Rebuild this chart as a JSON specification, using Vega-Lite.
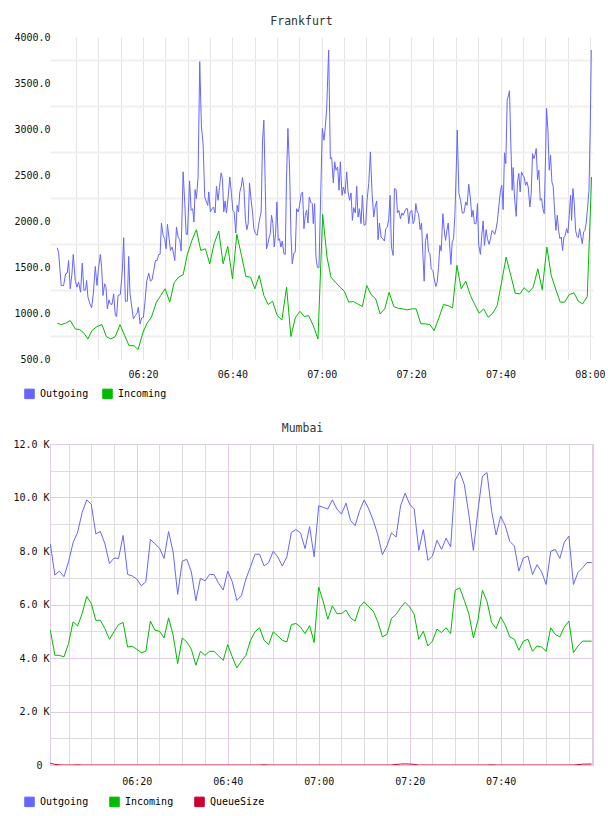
{
"$schema": "https://vega.github.io/schema/vega-lite/v6.json",
"padding": {"left": 12, "top": 15, "right": 0, "bottom": 0},
"background": "white",
"spacing": 21,
"config": {
 "font": "DejaVu Sans Mono",
 "axis": {"labelFont": "DejaVu Sans Mono", "labelFontSize": 10, "labelColor": "#111", "ticks": false, "domain": false, "labelFlush": false, "labelOverlap": false}
},
"resolve": {"scale": {"color": "independent", "x": "independent", "y": "independent"}, "legend": {"color": "independent"}},
"vconcat": [
{
 "title": {"text": "Frankfurt", "font": "DejaVu Sans Mono", "fontSize": 11.5, "fontWeight": "normal", "color": "#333", "dx": -20, "offset": -4, "baseline": "alphabetic"},
 "width": 543, "height": 322,
 "view": {"stroke": null},
 "data": {"values": [
{"min":0.80,"series":"Outgoing","value":1709},{"min":1.10,"series":"Outgoing","value":1662},{"min":1.69,"series":"Outgoing","value":1299},{"min":2.22,"series":"Outgoing","value":1299},{"min":2.67,"series":"Outgoing","value":1426},{"min":3.04,"series":"Outgoing","value":1433},{"min":3.34,"series":"Outgoing","value":1571},{"min":3.71,"series":"Outgoing","value":1263},{"min":4.09,"series":"Outgoing","value":1426},{"min":4.39,"series":"Outgoing","value":1637},{"min":4.83,"series":"Outgoing","value":1354},{"min":5.21,"series":"Outgoing","value":1281},{"min":5.58,"series":"Outgoing","value":1335},{"min":6.03,"series":"Outgoing","value":1226},{"min":6.40,"series":"Outgoing","value":1542},{"min":6.78,"series":"Outgoing","value":1245},{"min":7.15,"series":"Outgoing","value":1252},{"min":7.37,"series":"Outgoing","value":1354},{"min":7.67,"series":"Outgoing","value":1172},{"min":8.12,"series":"Outgoing","value":1099},{"min":8.50,"series":"Outgoing","value":1056},{"min":8.87,"series":"Outgoing","value":1208},{"min":9.32,"series":"Outgoing","value":1506},{"min":9.69,"series":"Outgoing","value":1299},{"min":9.99,"series":"Outgoing","value":1462},{"min":10.44,"series":"Outgoing","value":1637},{"min":10.74,"series":"Outgoing","value":1498},{"min":11.04,"series":"Outgoing","value":1190},{"min":11.41,"series":"Outgoing","value":1317},{"min":11.71,"series":"Outgoing","value":1281},{"min":12.01,"series":"Outgoing","value":1045},{"min":12.38,"series":"Outgoing","value":1143},{"min":12.68,"series":"Outgoing","value":1099},{"min":13.05,"series":"Outgoing","value":1092},{"min":13.43,"series":"Outgoing","value":1208},{"min":13.80,"series":"Outgoing","value":972},{"min":14.10,"series":"Outgoing","value":961},{"min":14.40,"series":"Outgoing","value":1190},{"min":14.92,"series":"Outgoing","value":1201},{"min":15.37,"series":"Outgoing","value":1462},{"min":15.67,"series":"Outgoing","value":1818},{"min":16.04,"series":"Outgoing","value":1128},{"min":16.49,"series":"Outgoing","value":1128},{"min":16.79,"series":"Outgoing","value":1615},{"min":17.09,"series":"Outgoing","value":1208},{"min":17.54,"series":"Outgoing","value":1045},{"min":17.84,"series":"Outgoing","value":936},{"min":18.29,"series":"Outgoing","value":972},{"min":18.66,"series":"Outgoing","value":998},{"min":18.96,"series":"Outgoing","value":1063},{"min":19.33,"series":"Outgoing","value":882},{"min":19.71,"series":"Outgoing","value":947},{"min":20.08,"series":"Outgoing","value":954},{"min":20.45,"series":"Outgoing","value":1128},{"min":20.83,"series":"Outgoing","value":1346},{"min":21.28,"series":"Outgoing","value":1433},{"min":21.65,"series":"Outgoing","value":1346},{"min":22.02,"series":"Outgoing","value":1361},{"min":22.40,"series":"Outgoing","value":1462},{"min":22.77,"series":"Outgoing","value":1571},{"min":23.14,"series":"Outgoing","value":1571},{"min":23.52,"series":"Outgoing","value":1637},{"min":23.82,"series":"Outgoing","value":1637},{"min":24.12,"series":"Outgoing","value":1978},{"min":24.49,"series":"Outgoing","value":1844},{"min":24.86,"series":"Outgoing","value":1807},{"min":25.16,"series":"Outgoing","value":1698},{"min":25.46,"series":"Outgoing","value":1964},{"min":25.84,"series":"Outgoing","value":1807},{"min":26.13,"series":"Outgoing","value":1680},{"min":26.51,"series":"Outgoing","value":1717},{"min":26.81,"series":"Outgoing","value":1651},{"min":27.11,"series":"Outgoing","value":1571},{"min":27.48,"series":"Outgoing","value":1935},{"min":27.85,"series":"Outgoing","value":1826},{"min":28.23,"series":"Outgoing","value":1797},{"min":28.53,"series":"Outgoing","value":1673},{"min":28.97,"series":"Outgoing","value":2534},{"min":29.35,"series":"Outgoing","value":2189},{"min":29.65,"series":"Outgoing","value":1855},{"min":29.95,"series":"Outgoing","value":1855},{"min":30.42,"series":"Outgoing","value":2436},{"min":30.76,"series":"Outgoing","value":2116},{"min":31.10,"series":"Outgoing","value":2134},{"min":31.40,"series":"Outgoing","value":1989},{"min":31.65,"series":"Outgoing","value":2341},{"min":31.94,"series":"Outgoing","value":2243},{"min":32.32,"series":"Outgoing","value":2479},{"min":32.69,"series":"Outgoing","value":3732},{"min":33.07,"series":"Outgoing","value":3024},{"min":33.44,"series":"Outgoing","value":2842},{"min":33.81,"series":"Outgoing","value":2261},{"min":34.19,"series":"Outgoing","value":2207},{"min":34.49,"series":"Outgoing","value":2170},{"min":34.71,"series":"Outgoing","value":2316},{"min":35.08,"series":"Outgoing","value":2098},{"min":35.46,"series":"Outgoing","value":2134},{"min":35.76,"series":"Outgoing","value":2152},{"min":36.13,"series":"Outgoing","value":2087},{"min":36.43,"series":"Outgoing","value":2377},{"min":36.80,"series":"Outgoing","value":2225},{"min":37.10,"series":"Outgoing","value":2363},{"min":37.48,"series":"Outgoing","value":2523},{"min":37.77,"series":"Outgoing","value":2461},{"min":38.07,"series":"Outgoing","value":2098},{"min":38.37,"series":"Outgoing","value":2218},{"min":38.67,"series":"Outgoing","value":2087},{"min":39.05,"series":"Outgoing","value":2261},{"min":39.42,"series":"Outgoing","value":2479},{"min":39.79,"series":"Outgoing","value":2298},{"min":40.09,"series":"Outgoing","value":2116},{"min":40.39,"series":"Outgoing","value":2098},{"min":40.76,"series":"Outgoing","value":1869},{"min":41.06,"series":"Outgoing","value":2170},{"min":41.36,"series":"Outgoing","value":2098},{"min":41.66,"series":"Outgoing","value":2316},{"min":41.96,"series":"Outgoing","value":2370},{"min":42.26,"series":"Outgoing","value":2472},{"min":42.56,"series":"Outgoing","value":2370},{"min":42.93,"series":"Outgoing","value":2007},{"min":43.23,"series":"Outgoing","value":1906},{"min":43.53,"series":"Outgoing","value":1971},{"min":43.83,"series":"Outgoing","value":2414},{"min":44.20,"series":"Outgoing","value":2225},{"min":44.50,"series":"Outgoing","value":2098},{"min":44.80,"series":"Outgoing","value":1917},{"min":45.17,"series":"Outgoing","value":1862},{"min":45.55,"series":"Outgoing","value":1844},{"min":45.85,"series":"Outgoing","value":1953},{"min":46.15,"series":"Outgoing","value":2036},{"min":46.44,"series":"Outgoing","value":2098},{"min":46.74,"series":"Outgoing","value":2871},{"min":47.04,"series":"Outgoing","value":3096},{"min":47.34,"series":"Outgoing","value":2407},{"min":47.64,"series":"Outgoing","value":1698},{"min":47.94,"series":"Outgoing","value":1753},{"min":48.24,"series":"Outgoing","value":1826},{"min":48.46,"series":"Outgoing","value":1855},{"min":48.76,"series":"Outgoing","value":2062},{"min":49.06,"series":"Outgoing","value":1971},{"min":49.36,"series":"Outgoing","value":1717},{"min":49.66,"series":"Outgoing","value":1862},{"min":49.96,"series":"Outgoing","value":2207},{"min":50.26,"series":"Outgoing","value":1789},{"min":50.55,"series":"Outgoing","value":1807},{"min":50.85,"series":"Outgoing","value":1717},{"min":51.15,"series":"Outgoing","value":1782},{"min":51.53,"series":"Outgoing","value":1644},{"min":51.83,"series":"Outgoing","value":1637},{"min":52.12,"series":"Outgoing","value":2479},{"min":52.42,"series":"Outgoing","value":3006},{"min":52.80,"series":"Outgoing","value":2552},{"min":53.10,"series":"Outgoing","value":1862},{"min":53.39,"series":"Outgoing","value":1535},{"min":53.77,"series":"Outgoing","value":1651},{"min":54.07,"series":"Outgoing","value":1662},{"min":54.37,"series":"Outgoing","value":2134},{"min":54.74,"series":"Outgoing","value":2098},{"min":55.04,"series":"Outgoing","value":2170},{"min":55.41,"series":"Outgoing","value":2298},{"min":55.71,"series":"Outgoing","value":2316},{"min":56.01,"series":"Outgoing","value":1917},{"min":56.31,"series":"Outgoing","value":2062},{"min":56.61,"series":"Outgoing","value":2116},{"min":56.91,"series":"Outgoing","value":1978},{"min":57.21,"series":"Outgoing","value":2261},{"min":57.51,"series":"Outgoing","value":2207},{"min":57.88,"series":"Outgoing","value":2189},{"min":58.10,"series":"Outgoing","value":1971},{"min":58.40,"series":"Outgoing","value":2189},{"min":58.70,"series":"Outgoing","value":1608},{"min":59.00,"series":"Outgoing","value":1498},{"min":59.37,"series":"Outgoing","value":1491},{"min":60.12,"series":"Outgoing","value":3006},{"min":60.49,"series":"Outgoing","value":2878},{"min":60.72,"series":"Outgoing","value":2988},{"min":61.09,"series":"Outgoing","value":3205},{"min":61.54,"series":"Outgoing","value":3859},{"min":61.92,"series":"Outgoing","value":2679},{"min":62.21,"series":"Outgoing","value":2690},{"min":62.59,"series":"Outgoing","value":2414},{"min":62.89,"series":"Outgoing","value":2643},{"min":63.19,"series":"Outgoing","value":2552},{"min":63.56,"series":"Outgoing","value":2588},{"min":63.86,"series":"Outgoing","value":2334},{"min":64.16,"series":"Outgoing","value":2643},{"min":64.53,"series":"Outgoing","value":2279},{"min":64.83,"series":"Outgoing","value":2370},{"min":65.20,"series":"Outgoing","value":2298},{"min":65.58,"series":"Outgoing","value":2534},{"min":65.88,"series":"Outgoing","value":2316},{"min":66.25,"series":"Outgoing","value":2225},{"min":66.55,"series":"Outgoing","value":2305},{"min":66.85,"series":"Outgoing","value":2007},{"min":67.15,"series":"Outgoing","value":2145},{"min":67.52,"series":"Outgoing","value":2087},{"min":67.82,"series":"Outgoing","value":2377},{"min":68.12,"series":"Outgoing","value":2043},{"min":68.42,"series":"Outgoing","value":2134},{"min":68.79,"series":"Outgoing","value":1971},{"min":69.09,"series":"Outgoing","value":2279},{"min":69.46,"series":"Outgoing","value":1953},{"min":69.84,"series":"Outgoing","value":1964},{"min":70.14,"series":"Outgoing","value":2225},{"min":70.51,"series":"Outgoing","value":2407},{"min":70.88,"series":"Outgoing","value":2751},{"min":71.26,"series":"Outgoing","value":2298},{"min":71.63,"series":"Outgoing","value":2043},{"min":71.93,"series":"Outgoing","value":2152},{"min":72.30,"series":"Outgoing","value":2218},{"min":72.60,"series":"Outgoing","value":1797},{"min":72.90,"series":"Outgoing","value":1978},{"min":73.28,"series":"Outgoing","value":1826},{"min":73.65,"series":"Outgoing","value":1807},{"min":74.02,"series":"Outgoing","value":1782},{"min":74.32,"series":"Outgoing","value":1917},{"min":74.70,"series":"Outgoing","value":1935},{"min":74.99,"series":"Outgoing","value":2025},{"min":75.29,"series":"Outgoing","value":2279},{"min":75.59,"series":"Outgoing","value":1717},{"min":75.97,"series":"Outgoing","value":1626},{"min":76.26,"series":"Outgoing","value":2352},{"min":76.64,"series":"Outgoing","value":2341},{"min":76.94,"series":"Outgoing","value":2087},{"min":77.24,"series":"Outgoing","value":2116},{"min":77.61,"series":"Outgoing","value":2025},{"min":77.91,"series":"Outgoing","value":2087},{"min":78.21,"series":"Outgoing","value":2062},{"min":78.51,"series":"Outgoing","value":2098},{"min":78.88,"series":"Outgoing","value":2134},{"min":79.18,"series":"Outgoing","value":2134},{"min":79.48,"series":"Outgoing","value":1971},{"min":79.78,"series":"Outgoing","value":2098},{"min":80.15,"series":"Outgoing","value":2116},{"min":80.45,"series":"Outgoing","value":1971},{"min":80.75,"series":"Outgoing","value":2007},{"min":81.05,"series":"Outgoing","value":2189},{"min":81.35,"series":"Outgoing","value":2098},{"min":81.65,"series":"Outgoing","value":2080},{"min":82.02,"series":"Outgoing","value":1906},{"min":82.32,"series":"Outgoing","value":1978},{"min":82.62,"series":"Outgoing","value":1644},{"min":82.92,"series":"Outgoing","value":1346},{"min":83.22,"series":"Outgoing","value":1789},{"min":83.59,"series":"Outgoing","value":1862},{"min":83.89,"series":"Outgoing","value":1662},{"min":84.19,"series":"Outgoing","value":1651},{"min":84.49,"series":"Outgoing","value":1480},{"min":84.86,"series":"Outgoing","value":1462},{"min":85.16,"series":"Outgoing","value":1372},{"min":85.53,"series":"Outgoing","value":1288},{"min":85.83,"series":"Outgoing","value":1335},{"min":86.13,"series":"Outgoing","value":1498},{"min":86.43,"series":"Outgoing","value":1735},{"min":86.73,"series":"Outgoing","value":1673},{"min":87.10,"series":"Outgoing","value":2080},{"min":87.40,"series":"Outgoing","value":1906},{"min":87.70,"series":"Outgoing","value":1789},{"min":88.00,"series":"Outgoing","value":1898},{"min":88.30,"series":"Outgoing","value":1978},{"min":88.60,"series":"Outgoing","value":1753},{"min":88.90,"series":"Outgoing","value":1527},{"min":89.19,"series":"Outgoing","value":1771},{"min":89.49,"series":"Outgoing","value":1807},{"min":89.79,"series":"Outgoing","value":2062},{"min":90.09,"series":"Outgoing","value":2552},{"min":90.32,"series":"Outgoing","value":2988},{"min":90.69,"series":"Outgoing","value":2298},{"min":91.06,"series":"Outgoing","value":2225},{"min":91.44,"series":"Outgoing","value":2087},{"min":91.81,"series":"Outgoing","value":2087},{"min":92.22,"series":"Outgoing","value":2207},{"min":92.52,"series":"Outgoing","value":2170},{"min":92.89,"series":"Outgoing","value":2399},{"min":93.27,"series":"Outgoing","value":2243},{"min":93.57,"series":"Outgoing","value":2043},{"min":93.86,"series":"Outgoing","value":2116},{"min":94.16,"series":"Outgoing","value":1971},{"min":94.54,"series":"Outgoing","value":1971},{"min":94.84,"series":"Outgoing","value":2189},{"min":95.13,"series":"Outgoing","value":1735},{"min":95.51,"series":"Outgoing","value":1637},{"min":95.81,"series":"Outgoing","value":1844},{"min":96.11,"series":"Outgoing","value":2000},{"min":96.41,"series":"Outgoing","value":1735},{"min":96.78,"series":"Outgoing","value":1906},{"min":97.08,"series":"Outgoing","value":1807},{"min":97.45,"series":"Outgoing","value":1746},{"min":97.75,"series":"Outgoing","value":1807},{"min":98.12,"series":"Outgoing","value":1898},{"min":98.42,"series":"Outgoing","value":1880},{"min":98.72,"series":"Outgoing","value":1855},{"min":99.02,"series":"Outgoing","value":1917},{"min":99.32,"series":"Outgoing","value":2007},{"min":99.62,"series":"Outgoing","value":2152},{"min":99.99,"series":"Outgoing","value":2334},{"min":100.29,"series":"Outgoing","value":2388},{"min":100.59,"series":"Outgoing","value":2123},{"min":100.89,"series":"Outgoing","value":2741},{"min":101.19,"series":"Outgoing","value":2624},{"min":101.49,"series":"Outgoing","value":3314},{"min":101.79,"series":"Outgoing","value":3369},{"min":102.01,"series":"Outgoing","value":3416},{"min":102.31,"series":"Outgoing","value":2842},{"min":102.61,"series":"Outgoing","value":2334},{"min":102.83,"series":"Outgoing","value":2581},{"min":103.13,"series":"Outgoing","value":2261},{"min":103.51,"series":"Outgoing","value":2051},{"min":103.80,"series":"Outgoing","value":2425},{"min":104.10,"series":"Outgoing","value":2516},{"min":104.40,"series":"Outgoing","value":2316},{"min":104.70,"series":"Outgoing","value":2534},{"min":105.00,"series":"Outgoing","value":2497},{"min":105.30,"series":"Outgoing","value":2479},{"min":105.60,"series":"Outgoing","value":2388},{"min":105.90,"series":"Outgoing","value":2425},{"min":106.20,"series":"Outgoing","value":2370},{"min":106.57,"series":"Outgoing","value":2152},{"min":106.87,"series":"Outgoing","value":2298},{"min":107.17,"series":"Outgoing","value":2733},{"min":107.47,"series":"Outgoing","value":2679},{"min":107.77,"series":"Outgoing","value":2726},{"min":107.99,"series":"Outgoing","value":2788},{"min":108.29,"series":"Outgoing","value":2450},{"min":108.59,"series":"Outgoing","value":2552},{"min":108.89,"series":"Outgoing","value":2225},{"min":109.19,"series":"Outgoing","value":2243},{"min":109.48,"series":"Outgoing","value":2134},{"min":109.78,"series":"Outgoing","value":2080},{"min":110.08,"series":"Outgoing","value":2697},{"min":110.31,"series":"Outgoing","value":3224},{"min":110.61,"series":"Outgoing","value":2988},{"min":110.90,"series":"Outgoing","value":2552},{"min":111.20,"series":"Outgoing","value":2715},{"min":111.50,"series":"Outgoing","value":2425},{"min":111.80,"series":"Outgoing","value":2377},{"min":112.10,"series":"Outgoing","value":2116},{"min":112.40,"series":"Outgoing","value":1898},{"min":112.70,"series":"Outgoing","value":2062},{"min":113.00,"series":"Outgoing","value":1898},{"min":113.30,"series":"Outgoing","value":1807},{"min":113.60,"series":"Outgoing","value":1826},{"min":113.89,"series":"Outgoing","value":1680},{"min":114.19,"series":"Outgoing","value":1826},{"min":114.49,"series":"Outgoing","value":1844},{"min":114.79,"series":"Outgoing","value":1917},{"min":115.09,"series":"Outgoing","value":1869},{"min":115.39,"series":"Outgoing","value":2062},{"min":115.69,"series":"Outgoing","value":2279},{"min":115.91,"series":"Outgoing","value":2007},{"min":116.21,"series":"Outgoing","value":2352},{"min":116.51,"series":"Outgoing","value":2189},{"min":116.81,"series":"Outgoing","value":1898},{"min":117.11,"series":"Outgoing","value":1833},{"min":117.41,"series":"Outgoing","value":1818},{"min":117.71,"series":"Outgoing","value":1917},{"min":118.00,"series":"Outgoing","value":1833},{"min":118.30,"series":"Outgoing","value":1753},{"min":118.60,"series":"Outgoing","value":1880},{"min":118.90,"series":"Outgoing","value":1898},{"min":119.20,"series":"Outgoing","value":1989},{"min":119.50,"series":"Outgoing","value":2152},{"min":119.80,"series":"Outgoing","value":2334},{"min":120.10,"series":"Outgoing","value":3060},{"min":120.32,"series":"Outgoing","value":3859},
{"min":0.80,"series":"Incoming","value":889},{"min":1.69,"series":"Incoming","value":874},{"min":2.67,"series":"Incoming","value":889},{"min":3.71,"series":"Incoming","value":918},{"min":4.83,"series":"Incoming","value":827},{"min":5.81,"series":"Incoming","value":820},{"min":6.78,"series":"Incoming","value":780},{"min":7.67,"series":"Incoming","value":718},{"min":8.57,"series":"Incoming","value":809},{"min":9.69,"series":"Incoming","value":853},{"min":10.81,"series":"Incoming","value":874},{"min":11.78,"series":"Incoming","value":744},{"min":12.76,"series":"Incoming","value":718},{"min":13.80,"series":"Incoming","value":744},{"min":14.85,"series":"Incoming","value":874},{"min":15.89,"series":"Incoming","value":755},{"min":16.87,"series":"Incoming","value":645},{"min":17.99,"series":"Incoming","value":645},{"min":18.88,"series":"Incoming","value":602},{"min":20.01,"series":"Incoming","value":791},{"min":20.90,"series":"Incoming","value":889},{"min":21.87,"series":"Incoming","value":954},{"min":22.99,"series":"Incoming","value":1118},{"min":23.97,"series":"Incoming","value":1190},{"min":24.94,"series":"Incoming","value":1263},{"min":25.98,"series":"Incoming","value":1118},{"min":26.96,"series":"Incoming","value":1328},{"min":27.93,"series":"Incoming","value":1390},{"min":28.97,"series":"Incoming","value":1415},{"min":29.95,"series":"Incoming","value":1644},{"min":30.95,"series":"Incoming","value":1790},{"min":31.94,"series":"Incoming","value":1906},{"min":32.92,"series":"Incoming","value":1680},{"min":33.96,"series":"Incoming","value":1698},{"min":34.93,"series":"Incoming","value":1535},{"min":35.91,"series":"Incoming","value":1753},{"min":36.95,"series":"Incoming","value":1891},{"min":37.92,"series":"Incoming","value":1535},{"min":38.97,"series":"Incoming","value":1724},{"min":40.02,"series":"Incoming","value":1372},{"min":40.99,"series":"Incoming","value":1855},{"min":42.03,"series":"Incoming","value":1626},{"min":43.01,"series":"Incoming","value":1397},{"min":44.05,"series":"Incoming","value":1390},{"min":45.02,"series":"Incoming","value":1263},{"min":46.00,"series":"Incoming","value":1408},{"min":47.04,"series":"Incoming","value":1190},{"min":48.01,"series":"Incoming","value":1092},{"min":48.99,"series":"Incoming","value":1128},{"min":50.03,"series":"Incoming","value":972},{"min":51.08,"series":"Incoming","value":925},{"min":52.12,"series":"Incoming","value":1281},{"min":53.10,"series":"Incoming","value":744},{"min":54.07,"series":"Incoming","value":947},{"min":55.11,"series":"Incoming","value":1019},{"min":56.08,"series":"Incoming","value":961},{"min":57.06,"series":"Incoming","value":972},{"min":58.10,"series":"Incoming","value":863},{"min":59.15,"series":"Incoming","value":718},{"min":60.20,"series":"Incoming","value":2072},{"min":61.17,"series":"Incoming","value":1608},{"min":62.06,"series":"Incoming","value":1390},{"min":63.04,"series":"Incoming","value":1335},{"min":64.08,"series":"Incoming","value":1281},{"min":65.05,"series":"Incoming","value":1237},{"min":66.03,"series":"Incoming","value":1118},{"min":67.07,"series":"Incoming","value":1125},{"min":68.04,"series":"Incoming","value":1099},{"min":69.09,"series":"Incoming","value":1070},{"min":70.06,"series":"Incoming","value":1299},{"min":71.03,"series":"Incoming","value":1201},{"min":72.08,"series":"Incoming","value":1154},{"min":73.05,"series":"Incoming","value":990},{"min":74.10,"series":"Incoming","value":1045},{"min":75.07,"series":"Incoming","value":1226},{"min":76.12,"series":"Incoming","value":1070},{"min":77.09,"series":"Incoming","value":1052},{"min":78.13,"series":"Incoming","value":1045},{"min":79.11,"series":"Incoming","value":1034},{"min":80.15,"series":"Incoming","value":1045},{"min":81.12,"series":"Incoming","value":1045},{"min":82.17,"series":"Incoming","value":882},{"min":83.14,"series":"Incoming","value":882},{"min":84.19,"series":"Incoming","value":874},{"min":85.16,"series":"Incoming","value":809},{"min":86.21,"series":"Incoming","value":947},{"min":87.25,"series":"Incoming","value":1092},{"min":88.22,"series":"Incoming","value":1081},{"min":89.27,"series":"Incoming","value":1056},{"min":90.24,"series":"Incoming","value":1517},{"min":91.21,"series":"Incoming","value":1263},{"min":92.22,"series":"Incoming","value":1346},{"min":93.27,"series":"Incoming","value":1190},{"min":94.24,"series":"Incoming","value":1092},{"min":95.21,"series":"Incoming","value":998},{"min":96.26,"series":"Incoming","value":1045},{"min":97.23,"series":"Incoming","value":954},{"min":98.27,"series":"Incoming","value":998},{"min":99.25,"series":"Incoming","value":1081},{"min":100.29,"series":"Incoming","value":1346},{"min":101.26,"series":"Incoming","value":1608},{"min":102.31,"series":"Incoming","value":1408},{"min":103.28,"series":"Incoming","value":1215},{"min":104.33,"series":"Incoming","value":1208},{"min":105.30,"series":"Incoming","value":1274},{"min":106.35,"series":"Incoming","value":1226},{"min":107.32,"series":"Incoming","value":1281},{"min":108.36,"series":"Incoming","value":1480},{"min":109.34,"series":"Incoming","value":1252},{"min":110.38,"series":"Incoming","value":1717},{"min":111.35,"series":"Incoming","value":1408},{"min":112.40,"series":"Incoming","value":1252},{"min":113.37,"series":"Incoming","value":1118},{"min":114.34,"series":"Incoming","value":1118},{"min":115.39,"series":"Incoming","value":1201},{"min":116.44,"series":"Incoming","value":1219},{"min":117.41,"series":"Incoming","value":1128},{"min":118.38,"series":"Incoming","value":1099},{"min":119.42,"series":"Incoming","value":1179},{"min":120.38,"series":"Incoming","value":2479}
 ]},
 "mark": {"type": "line", "strokeWidth": 1, "clip": true},
 "encoding": {
  "x": {"field": "min", "type": "quantitative",
   "scale": {"domain": [-0.82, 120.7], "nice": false, "zero": false},
   "axis": {"title": null, "values": [5,10,15,20,25,30,35,40,45,50,55,60,65,70,75,80,85,90,95,100,105,110,115,120],
    "labelExpr": "datum.value % 20 == 0 ? timeFormat(datetime(2024,0,1,6,datum.value), '%H:%M') : ''",
    "gridColor": "#e4e4e4", "gridWidth": 1, "labelPadding": 10}},
  "y": {"field": "value", "type": "quantitative",
   "scale": {"domain": [500, 4000], "nice": false, "zero": false},
   "axis": {"title": null, "values": [500,750,1000,1250,1500,1750,2000,2250,2500,2750,3000,3250,3500,3750,4000],
    "labelExpr": "datum.value % 500 == 0 ? format(datum.value, '.1f') : ''",
    "gridColor": "#efefef", "gridWidth": 2,
    "gridOpacity": {"condition": {"test": "datum.value % 500 == 250", "value": 1}, "value": 0},
    "labelPadding": 0}},
  "color": {"field": "series", "type": "nominal", "sort": ["Outgoing", "Incoming"],
   "scale": {"domain": ["Outgoing", "Incoming"], "range": ["#6666ff", "#00bb00"]},
   "legend": {"title": null, "orient": "none", "legendX": -26, "legendY": 351, "direction": "horizontal",
    "symbolType": "square", "symbolSize": 90, "symbolStrokeWidth": 1, "labelFont": "DejaVu Sans Mono", "labelFontSize": 10, "labelColor": "#000", "labelOffset": 5, "columnPadding": 11,
    "encode": {"symbols": {"update": {"fill": {"signal": "datum.value === 'Outgoing' ? '#6666ff' : datum.value === 'Incoming' ? '#00bb00' : '#cc0033'"}, "fillOpacity": {"value": 1}, "stroke": {"value": "#888888"}, "strokeWidth": {"value": 1}, "opacity": {"value": 1}}}}}
  }
 }
},
{
 "title": {"text": "Mumbai", "font": "DejaVu Sans Mono", "fontSize": 11.5, "fontWeight": "normal", "color": "#333", "dx": -19, "offset": -4, "baseline": "alphabetic"},
 "width": 543, "height": 321,
 "view": {"stroke": "#e3cbe6"},
 "data": {"values": [
{"min":1,"series":"Outgoing","value":8270},{"min":2,"series":"Outgoing","value":7100},{"min":3,"series":"Outgoing","value":7250},{"min":4,"series":"Outgoing","value":7040},{"min":5,"series":"Outgoing","value":7590},{"min":6,"series":"Outgoing","value":8310},{"min":7,"series":"Outgoing","value":8700},{"min":8,"series":"Outgoing","value":9440},{"min":9,"series":"Outgoing","value":9910},{"min":10,"series":"Outgoing","value":9750},{"min":11,"series":"Outgoing","value":8640},{"min":12,"series":"Outgoing","value":8730},{"min":13,"series":"Outgoing","value":8270},{"min":14,"series":"Outgoing","value":7530},{"min":15,"series":"Outgoing","value":7740},{"min":16,"series":"Outgoing","value":7720},{"min":17,"series":"Outgoing","value":8580},{"min":18,"series":"Outgoing","value":7120},{"min":19,"series":"Outgoing","value":7070},{"min":20,"series":"Outgoing","value":6950},{"min":21,"series":"Outgoing","value":6700},{"min":22,"series":"Outgoing","value":6850},{"min":23,"series":"Outgoing","value":8430},{"min":24,"series":"Outgoing","value":8270},{"min":25,"series":"Outgoing","value":8110},{"min":26,"series":"Outgoing","value":7720},{"min":27,"series":"Outgoing","value":8730},{"min":28,"series":"Outgoing","value":7960},{"min":29,"series":"Outgoing","value":6380},{"min":30,"series":"Outgoing","value":7620},{"min":31,"series":"Outgoing","value":7690},{"min":32,"series":"Outgoing","value":7220},{"min":33,"series":"Outgoing","value":6140},{"min":34,"series":"Outgoing","value":6980},{"min":35,"series":"Outgoing","value":6880},{"min":36,"series":"Outgoing","value":7120},{"min":37,"series":"Outgoing","value":7120},{"min":38,"series":"Outgoing","value":6790},{"min":39,"series":"Outgoing","value":6540},{"min":40,"series":"Outgoing","value":7250},{"min":41,"series":"Outgoing","value":6850},{"min":42,"series":"Outgoing","value":6150},{"min":43,"series":"Outgoing","value":6330},{"min":44,"series":"Outgoing","value":6950},{"min":45,"series":"Outgoing","value":7410},{"min":46,"series":"Outgoing","value":7880},{"min":47,"series":"Outgoing","value":7880},{"min":48,"series":"Outgoing","value":7440},{"min":49,"series":"Outgoing","value":7570},{"min":50,"series":"Outgoing","value":7990},{"min":51,"series":"Outgoing","value":7780},{"min":52,"series":"Outgoing","value":7440},{"min":53,"series":"Outgoing","value":7780},{"min":54,"series":"Outgoing","value":8700},{"min":55,"series":"Outgoing","value":8800},{"min":56,"series":"Outgoing","value":8680},{"min":57,"series":"Outgoing","value":8090},{"min":58,"series":"Outgoing","value":8910},{"min":59,"series":"Outgoing","value":7780},{"min":60,"series":"Outgoing","value":9690},{"min":61,"series":"Outgoing","value":9630},{"min":62,"series":"Outgoing","value":9570},{"min":63,"series":"Outgoing","value":9910},{"min":64,"series":"Outgoing","value":9570},{"min":65,"series":"Outgoing","value":9380},{"min":66,"series":"Outgoing","value":9790},{"min":67,"series":"Outgoing","value":9140},{"min":68,"series":"Outgoing","value":8950},{"min":69,"series":"Outgoing","value":9510},{"min":70,"series":"Outgoing","value":9910},{"min":71,"series":"Outgoing","value":9570},{"min":72,"series":"Outgoing","value":9140},{"min":73,"series":"Outgoing","value":8600},{"min":74,"series":"Outgoing","value":7860},{"min":75,"series":"Outgoing","value":8190},{"min":76,"series":"Outgoing","value":8680},{"min":77,"series":"Outgoing","value":8520},{"min":78,"series":"Outgoing","value":9690},{"min":79,"series":"Outgoing","value":10160},{"min":80,"series":"Outgoing","value":9750},{"min":81,"series":"Outgoing","value":9570},{"min":82,"series":"Outgoing","value":8020},{"min":83,"series":"Outgoing","value":8800},{"min":84,"series":"Outgoing","value":7650},{"min":85,"series":"Outgoing","value":7810},{"min":86,"series":"Outgoing","value":8400},{"min":87,"series":"Outgoing","value":8060},{"min":88,"series":"Outgoing","value":8480},{"min":89,"series":"Outgoing","value":8150},{"min":90,"series":"Outgoing","value":10650},{"min":91,"series":"Outgoing","value":10950},{"min":92,"series":"Outgoing","value":10490},{"min":93,"series":"Outgoing","value":9380},{"min":94,"series":"Outgoing","value":8020},{"min":95,"series":"Outgoing","value":9510},{"min":96,"series":"Outgoing","value":10800},{"min":97,"series":"Outgoing","value":10930},{"min":98,"series":"Outgoing","value":9510},{"min":99,"series":"Outgoing","value":8600},{"min":100,"series":"Outgoing","value":9300},{"min":101,"series":"Outgoing","value":8950},{"min":102,"series":"Outgoing","value":8360},{"min":103,"series":"Outgoing","value":8190},{"min":104,"series":"Outgoing","value":7250},{"min":105,"series":"Outgoing","value":7740},{"min":106,"series":"Outgoing","value":7810},{"min":107,"series":"Outgoing","value":7120},{"min":108,"series":"Outgoing","value":7490},{"min":109,"series":"Outgoing","value":7220},{"min":110,"series":"Outgoing","value":6750},{"min":111,"series":"Outgoing","value":7990},{"min":112,"series":"Outgoing","value":8060},{"min":113,"series":"Outgoing","value":7720},{"min":114,"series":"Outgoing","value":8330},{"min":115,"series":"Outgoing","value":8560},{"min":116,"series":"Outgoing","value":6750},{"min":117,"series":"Outgoing","value":7200},{"min":118,"series":"Outgoing","value":7370},{"min":119,"series":"Outgoing","value":7570},{"min":120,"series":"Outgoing","value":7570},
{"min":1,"series":"Incoming","value":5040},{"min":2,"series":"Incoming","value":4100},{"min":3,"series":"Incoming","value":4100},{"min":4,"series":"Incoming","value":4040},{"min":5,"series":"Incoming","value":4540},{"min":6,"series":"Incoming","value":5350},{"min":7,"series":"Incoming","value":5200},{"min":8,"series":"Incoming","value":5660},{"min":9,"series":"Incoming","value":6300},{"min":10,"series":"Incoming","value":6040},{"min":11,"series":"Incoming","value":5410},{"min":12,"series":"Incoming","value":5410},{"min":13,"series":"Incoming","value":5100},{"min":14,"series":"Incoming","value":4700},{"min":15,"series":"Incoming","value":4980},{"min":16,"series":"Incoming","value":5250},{"min":17,"series":"Incoming","value":5330},{"min":18,"series":"Incoming","value":4410},{"min":19,"series":"Incoming","value":4440},{"min":20,"series":"Incoming","value":4330},{"min":21,"series":"Incoming","value":4200},{"min":22,"series":"Incoming","value":4250},{"min":23,"series":"Incoming","value":5380},{"min":24,"series":"Incoming","value":5040},{"min":25,"series":"Incoming","value":5000},{"min":26,"series":"Incoming","value":4750},{"min":27,"series":"Incoming","value":5500},{"min":28,"series":"Incoming","value":4850},{"min":29,"series":"Incoming","value":3790},{"min":30,"series":"Incoming","value":4750},{"min":31,"series":"Incoming","value":4600},{"min":32,"series":"Incoming","value":4330},{"min":33,"series":"Incoming","value":3730},{"min":34,"series":"Incoming","value":4250},{"min":35,"series":"Incoming","value":4100},{"min":36,"series":"Incoming","value":4250},{"min":37,"series":"Incoming","value":4250},{"min":38,"series":"Incoming","value":4080},{"min":39,"series":"Incoming","value":3910},{"min":40,"series":"Incoming","value":4500},{"min":41,"series":"Incoming","value":4040},{"min":42,"series":"Incoming","value":3630},{"min":43,"series":"Incoming","value":3880},{"min":44,"series":"Incoming","value":4100},{"min":45,"series":"Incoming","value":4660},{"min":46,"series":"Incoming","value":4980},{"min":47,"series":"Incoming","value":5130},{"min":48,"series":"Incoming","value":4660},{"min":49,"series":"Incoming","value":4500},{"min":50,"series":"Incoming","value":4980},{"min":51,"series":"Incoming","value":4830},{"min":52,"series":"Incoming","value":4660},{"min":53,"series":"Incoming","value":4600},{"min":54,"series":"Incoming","value":5250},{"min":55,"series":"Incoming","value":5290},{"min":56,"series":"Incoming","value":5160},{"min":57,"series":"Incoming","value":4910},{"min":58,"series":"Incoming","value":5210},{"min":59,"series":"Incoming","value":4580},{"min":60,"series":"Incoming","value":6650},{"min":61,"series":"Incoming","value":6100},{"min":62,"series":"Incoming","value":5450},{"min":63,"series":"Incoming","value":5950},{"min":64,"series":"Incoming","value":5660},{"min":65,"series":"Incoming","value":5660},{"min":66,"series":"Incoming","value":5790},{"min":67,"series":"Incoming","value":5500},{"min":68,"series":"Incoming","value":5380},{"min":69,"series":"Incoming","value":5910},{"min":70,"series":"Incoming","value":6100},{"min":71,"series":"Incoming","value":5910},{"min":72,"series":"Incoming","value":5750},{"min":73,"series":"Incoming","value":5350},{"min":74,"series":"Incoming","value":4790},{"min":75,"series":"Incoming","value":4880},{"min":76,"series":"Incoming","value":5480},{"min":77,"series":"Incoming","value":5630},{"min":78,"series":"Incoming","value":5880},{"min":79,"series":"Incoming","value":6080},{"min":80,"series":"Incoming","value":5910},{"min":81,"series":"Incoming","value":5630},{"min":82,"series":"Incoming","value":4700},{"min":83,"series":"Incoming","value":5000},{"min":84,"series":"Incoming","value":4450},{"min":85,"series":"Incoming","value":4630},{"min":86,"series":"Incoming","value":5080},{"min":87,"series":"Incoming","value":4950},{"min":88,"series":"Incoming","value":5130},{"min":89,"series":"Incoming","value":4910},{"min":90,"series":"Incoming","value":6530},{"min":91,"series":"Incoming","value":6620},{"min":92,"series":"Incoming","value":6160},{"min":93,"series":"Incoming","value":5660},{"min":94,"series":"Incoming","value":4750},{"min":95,"series":"Incoming","value":5410},{"min":96,"series":"Incoming","value":6530},{"min":97,"series":"Incoming","value":6120},{"min":98,"series":"Incoming","value":5330},{"min":99,"series":"Incoming","value":5100},{"min":100,"series":"Incoming","value":5540},{"min":101,"series":"Incoming","value":5230},{"min":102,"series":"Incoming","value":4790},{"min":103,"series":"Incoming","value":4700},{"min":104,"series":"Incoming","value":4290},{"min":105,"series":"Incoming","value":4630},{"min":106,"series":"Incoming","value":4700},{"min":107,"series":"Incoming","value":4250},{"min":108,"series":"Incoming","value":4450},{"min":109,"series":"Incoming","value":4410},{"min":110,"series":"Incoming","value":4250},{"min":111,"series":"Incoming","value":5130},{"min":112,"series":"Incoming","value":4880},{"min":113,"series":"Incoming","value":4790},{"min":114,"series":"Incoming","value":5160},{"min":115,"series":"Incoming","value":5380},{"min":116,"series":"Incoming","value":4200},{"min":117,"series":"Incoming","value":4450},{"min":118,"series":"Incoming","value":4630},{"min":119,"series":"Incoming","value":4630},{"min":120,"series":"Incoming","value":4630},
{"min":1,"series":"QueueSize","value":60},{"min":2,"series":"QueueSize","value":25},{"min":3,"series":"QueueSize","value":5},{"min":4,"series":"QueueSize","value":0},{"min":6,"series":"QueueSize","value":0},{"min":7,"series":"QueueSize","value":10},{"min":8,"series":"QueueSize","value":0},{"min":47,"series":"QueueSize","value":0},{"min":48,"series":"QueueSize","value":10},{"min":49,"series":"QueueSize","value":0},{"min":76,"series":"QueueSize","value":0},{"min":77,"series":"QueueSize","value":20},{"min":78,"series":"QueueSize","value":35},{"min":79,"series":"QueueSize","value":40},{"min":80,"series":"QueueSize","value":35},{"min":81,"series":"QueueSize","value":25},{"min":82,"series":"QueueSize","value":0},{"min":97,"series":"QueueSize","value":0},{"min":98,"series":"QueueSize","value":10},{"min":99,"series":"QueueSize","value":0},{"min":116,"series":"QueueSize","value":0},{"min":117,"series":"QueueSize","value":15},{"min":118,"series":"QueueSize","value":30},{"min":119,"series":"QueueSize","value":35},{"min":120,"series":"QueueSize","value":35}
 ]},
 "mark": {"type": "line", "strokeWidth": 1, "clip": true},
 "encoding": {
  "x": {"field": "min", "type": "quantitative",
   "scale": {"domain": [0.93, 120.3], "nice": false, "zero": false},
   "axis": {"title": null, "values": [5,10,15,20,25,30,35,40,45,50,55,60,65,70,75,80,85,90,95,100,105,110,115,120],
    "labelExpr": "datum.value % 20 == 0 && datum.value < 120 ? timeFormat(datetime(2024,0,1,6,datum.value), '%H:%M') : ''",
    "gridColor": {"condition": {"test": "datum.value % 20 == 0", "value": "#e3cbe6"}, "value": "#dddddd"},
    "gridWidth": 1, "labelPadding": 11}},
  "y": {"field": "value", "type": "quantitative",
   "scale": {"domain": [0, 12000], "nice": false, "zero": false},
   "axis": {"title": null, "values": [0,1000,2000,3000,4000,5000,6000,7000,8000,9000,10000,11000,12000],
    "labelExpr": "datum.value == 0 ? '0' : datum.value % 2000 == 0 ? format(datum.value/1000, '.1f') + ' K' : ''",
    "gridColor": {"condition": {"test": "datum.value % 2000 == 0", "value": "#e3cbe6"}, "value": "#dddddd"},
    "gridWidth": 1,
    "labelPadding": {"condition": {"test": "datum.value == 0", "value": 8}, "value": 1}}},
  "color": {"field": "series", "type": "nominal", "sort": ["Outgoing", "Incoming", "QueueSize"],
   "scale": {"domain": ["Outgoing", "Incoming", "QueueSize"], "range": ["#6666ff", "#00bb00", "#cc0033"]},
   "legend": {"title": null, "orient": "none", "legendX": -26, "legendY": 352, "direction": "horizontal",
    "symbolType": "square", "symbolSize": 90, "symbolStrokeWidth": 1, "labelFont": "DejaVu Sans Mono", "labelFontSize": 10, "labelColor": "#000", "labelOffset": 5, "columnPadding": 18,
    "encode": {"symbols": {"update": {"fill": {"signal": "datum.value === 'Outgoing' ? '#6666ff' : datum.value === 'Incoming' ? '#00bb00' : '#cc0033'"}, "fillOpacity": {"value": 1}, "stroke": {"value": "#888888"}, "strokeWidth": {"value": 1}, "opacity": {"value": 1}}}}}
  }
 }
}
]
}
